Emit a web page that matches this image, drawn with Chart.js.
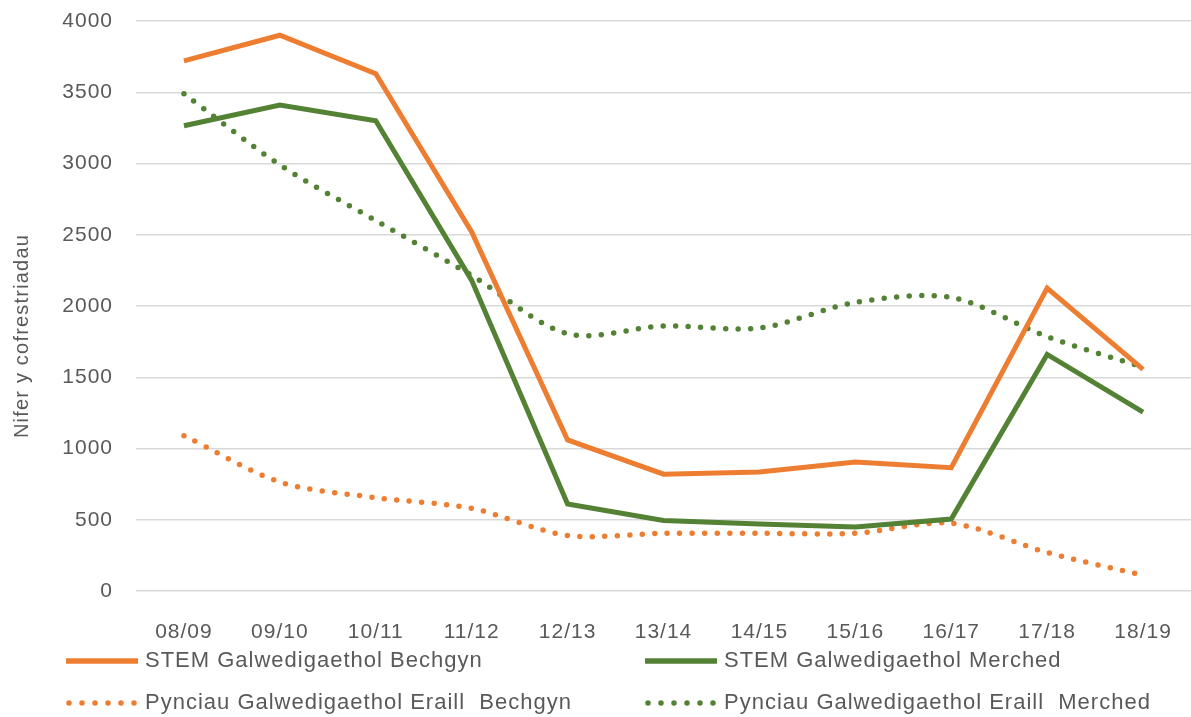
<!DOCTYPE html>
<html>
<head>
<meta charset="utf-8">
<script src="https://cdn.jsdelivr.net/npm/chart.js@4.4.1/dist/chart.umd.min.js"></script>
<style>
  html, body { margin: 0; padding: 0; background: #fff; overflow: hidden; }
  #wrap { width: 1191px; height: 717px; position: relative; }
</style>
</head>
<body>
<div id="wrap"><canvas id="chart"></canvas></div>
<script>
const years = ["08/09", "09/10", "10/11", "11/12", "12/13", "13/14", "14/15", "15/16", "16/17", "17/18", "18/19"];
const stemBoys = [3720, 3900, 3630, 2520, 1060, 820, 835, 905, 865, 2125, 1555];
const stemGirls = [3265, 3410, 3300, 2180, 610, 495, 470, 450, 505, 1660, 1255];
const otherBoys = [1090, 765, 655, 580, 390, 405, 405, 405, 475, 270, 110];
const otherGirls = [3490, 2990, 2600, 2215, 1805, 1860, 1845, 2025, 2060, 1785, 1570];
const yTicks = [0, 500, 1000, 1500, 2000, 2500, 3000, 3500, 4000];
const yTitle = "Nifer y cofrestriadau";

const ORANGE = "#ed7d31";
const GREEN = "#548235";
const GREY = "#595959";
const FONT = "'Liberation Sans', Arial, sans-serif";
const DOTS = [0, 12.5];

function solid(label, data, color) {
  return { label, data, borderColor: color, backgroundColor: color, borderWidth: 5,
    pointRadius: 0, tension: 0, fill: false };
}
function dotted(label, data, color) {
  return { label, data, borderColor: color, backgroundColor: color, borderWidth: 5.5,
    borderCapStyle: "round", borderDash: DOTS, pointRadius: 0, tension: 0.3,
    fill: false, dotted: true };
}

// slightly wider text, like the original
const spacingPlugin = {
  id: "spacing",
  beforeDraw(chart) { chart.ctx.letterSpacing = "1px"; }
};

// y title + two-column legend
const extrasPlugin = {
  id: "extras",
  afterDraw(chart) {
    const ctx = chart.ctx;
    ctx.save();
    ctx.fillStyle = GREY;
    ctx.font = "20px " + FONT;
    ctx.letterSpacing = "1.2px";
    ctx.textAlign = "center";
    ctx.textBaseline = "middle";
    ctx.translate(22, 336);
    ctx.rotate(-Math.PI / 2);
    ctx.fillText(yTitle, 0, 0);
    ctx.restore();

    ctx.save();
    const spots = [[66, 661], [645, 661], [66, 703], [645, 703]];
    chart.data.datasets.forEach((d, i) => {
      const [x, y] = spots[i];
      ctx.strokeStyle = d.borderColor;
      ctx.lineWidth = 5.5;
      ctx.lineCap = d.dotted ? "round" : "butt";
      ctx.setLineDash(d.dotted ? [0, 13] : []);
      ctx.beginPath();
      ctx.moveTo(x + (d.dotted ? 3 : 0), y);
      ctx.lineTo(x + 72, y);
      ctx.stroke();
      ctx.setLineDash([]);
      ctx.fillStyle = GREY;
      ctx.font = "22px " + FONT;
      ctx.letterSpacing = "1px";
      ctx.textAlign = "left";
      ctx.textBaseline = "middle";
      ctx.fillText(d.label, x + 79, y);
    });
    ctx.restore();
  }
};

new Chart(document.getElementById("chart"), {
  type: "line",
  data: {
    labels: years,
    datasets: [
      solid("STEM Galwedigaethol Bechgyn", stemBoys, ORANGE),
      solid("STEM Galwedigaethol Merched", stemGirls, GREEN),
      dotted("Pynciau Galwedigaethol Eraill  Bechgyn", otherBoys, ORANGE),
      dotted("Pynciau Galwedigaethol Eraill  Merched", otherGirls, GREEN),
    ],
  },
  options: {
    responsive: true,
    maintainAspectRatio: false,
    animation: false,
    layout: { padding: { top: 21, right: -8, bottom: 66, left: 0 } },
    plugins: { legend: { display: false }, tooltip: { enabled: false } },
    scales: {
      x: {
        offset: true,
        grid: { display: false },
        border: { display: false },
        afterFit: (axis) => { axis.height = 60; },
        ticks: { color: GREY, font: { family: FONT, size: 21 }, padding: 21, maxRotation: 0 },
      },
      y: {
        min: 0,
        max: 4000,
        afterBuildTicks: (axis) => { axis.ticks = yTicks.map((v) => ({ value: v })); },
        afterFit: (axis) => { axis.width = 136; axis.paddingTop = 0; axis.paddingBottom = 0; },
        grid: { color: "#d9d9d9", lineWidth: 1.5, drawTicks: false },
        border: { display: false },
        ticks: { color: GREY, font: { family: FONT, size: 21, lineHeight: 1 }, padding: 23,
          callback: (v) => String(v) },
      },
    },
  },
  plugins: [spacingPlugin, extrasPlugin],
});
</script>
</body>
</html>
